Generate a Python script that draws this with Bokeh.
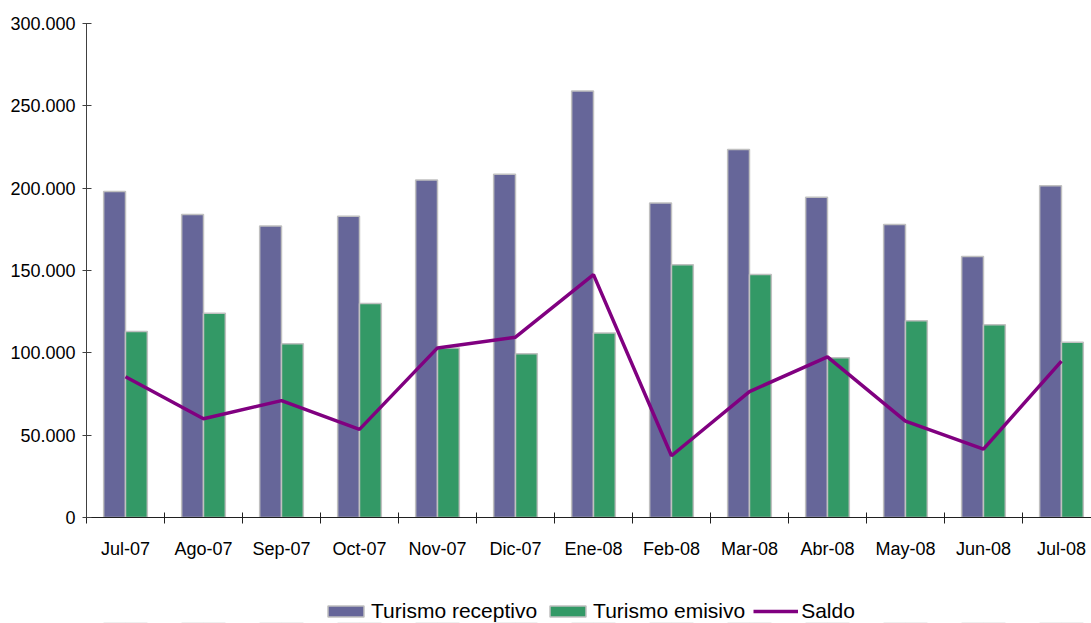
from bokeh.plotting import figure
from bokeh.layouts import column
from bokeh.models import (ColumnDataSource, FixedTicker, Range1d, Legend, LegendItem)
from bokeh.embed import file_html
from bokeh.resources import INLINE

months = ["Jul-07", "Ago-07", "Sep-07", "Oct-07", "Nov-07", "Dic-07", "Ene-08",
          "Feb-08", "Mar-08", "Abr-08", "May-08", "Jun-08", "Jul-08"]
receptivo = [198000, 184000, 177000, 183000, 205000, 208500, 259000,
             191000, 223500, 194500, 178000, 158500, 201500]
emisivo = [113000, 124000, 105500, 130000, 103000, 99500, 112000,
           153500, 147500, 97000, 119500, 117000, 106500]
saldo = [85500, 60000, 71000, 53500, 103000, 109500, 147500,
         37500, 76500, 97500, 58500, 41500, 95000]
y_ticks = [0, 50000, 100000, 150000, 200000, 250000, 300000]
y_labels = ["0", "50.000", "100.000", "150.000", "200.000", "250.000", "300.000"]
series_names = ["Turismo receptivo", "Turismo emisivo", "Saldo"]

FONT = "Liberation Sans"
C_REC, C_EMI, C_SAL, C_EDGE = "#666699", "#339966", "#800080", "#c0c0c0"
centers = [i + 0.5 for i in range(len(months))]

src = ColumnDataSource(dict(
    xr=[c - 0.14 for c in centers],
    xe=[c + 0.14 for c in centers],
    xc=centers,
    rec=receptivo, emi=emisivo, sal=saldo,
))


def draw_series(fig):
    a = fig.vbar(x="xr", top="rec", width=0.28, source=src, fill_color=C_REC,
                 line_color=C_EDGE, line_width=1.5)
    b = fig.vbar(x="xe", top="emi", width=0.28, source=src, fill_color=C_EMI,
                 line_color=C_EDGE, line_width=1.5)
    c = fig.line(x="xc", y="sal", source=src, line_color=C_SAL, line_width=3.5)
    return a, b, c


p = figure(width=1091, height=573, output_backend="svg", toolbar_location=None,
           x_range=Range1d(0, 12.885), y_range=Range1d(0, 300000),
           min_border_left=86, min_border_right=0, min_border_top=23,
           min_border_bottom=56)
p.outline_line_color = None
p.xgrid.grid_line_color = None
p.ygrid.grid_line_color = None
draw_series(p)

# y axis
ya = p.yaxis[0]
ya.ticker = FixedTicker(ticks=y_ticks, minor_ticks=[])
ya.major_label_overrides = {t: l for t, l in zip(y_ticks, y_labels)}
ya.major_tick_in = 5
ya.major_tick_out = 4
ya.major_label_standoff = 7
ya.axis_line_color = "#404040"
ya.major_tick_line_color = "#404040"
ya.major_label_text_font = FONT
ya.major_label_text_font_size = "18px"
ya.major_label_text_color = "black"

# x axis
xa = p.xaxis[0]
xa.ticker = FixedTicker(ticks=centers, minor_ticks=list(range(len(months) + 1)))
xa.major_label_overrides = {c: m for c, m in zip(centers, months)}
xa.major_tick_in = 0
xa.major_tick_out = 0
xa.minor_tick_in = 5
xa.minor_tick_out = 6
xa.major_label_standoff = 15
xa.axis_line_color = "#202020"
xa.minor_tick_line_color = "#202020"
xa.major_label_text_font = FONT
xa.major_label_text_font_size = "18px"
xa.major_label_text_color = "black"

# legend strip (same series, all of it lying below its visible y range)
lg = figure(width=1091, height=50, output_backend="svg", toolbar_location=None,
            x_range=p.x_range, y_range=Range1d(1e6, 2e6),
            min_border_left=86, min_border_right=0, min_border_top=0,
            min_border_bottom=0)
lg.outline_line_color = None
lg.axis.visible = False
lg.grid.visible = False
g1, g2, g3 = draw_series(lg)

legend = Legend(items=[
    LegendItem(label=series_names[0], renderers=[g1]),
    LegendItem(label=series_names[1], renderers=[g2]),
    LegendItem(label=series_names[2], renderers=[g3]),
], orientation="horizontal", location=(237, 0))
legend.label_text_font = FONT
legend.label_text_font_size = "21px"
legend.label_text_color = "black"
legend.glyph_width = 45
legend.glyph_height = 14
legend.label_standoff = 3
legend.spacing = 8
legend.border_line_color = None
legend.background_fill_alpha = 0
legend.margin = 0
legend.padding = 0
lg.add_layout(legend, "center")

layout = column(p, lg, spacing=0)
open("out.html", "w").write(file_html(layout, INLINE))
